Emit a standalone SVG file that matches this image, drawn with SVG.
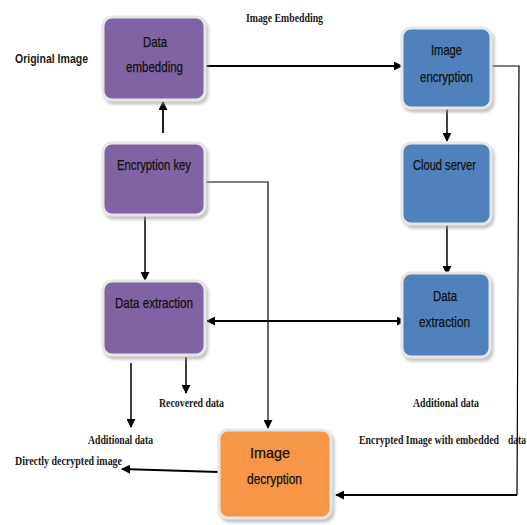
<svg xmlns="http://www.w3.org/2000/svg" width="527" height="525" viewBox="0 0 527 525">
<defs>
<filter id="sh" x="-10%" y="-10%" width="125%" height="130%">
<feDropShadow dx="2" dy="3" stdDeviation="1.5" flood-color="#999" flood-opacity="0.6"/>
</filter>
<marker id="ah" viewBox="0 0 10 10" refX="9" refY="5" markerWidth="9" markerHeight="9" markerUnits="userSpaceOnUse" orient="auto-start-reverse">
<path d="M0,0 L10,5 L0,10 z" fill="#000"/>
</marker>
<style>
.box{stroke:#e6e6e6;stroke-width:3;filter:url(#sh)}
.pur{fill:#8064A2}
.blu{fill:#4F81BD}
.org{fill:#F79646}
.bt{font-family:"Liberation Sans",Arial,sans-serif;font-size:14.5px;fill:#111;stroke:#111;stroke-width:0.25;text-anchor:start}
.lb{font-family:"Liberation Serif","Times New Roman",serif;font-size:12px;font-weight:bold;fill:#1a1a1a}
.ln{fill:none;stroke:#000}
</style>
</defs>
<rect width="527" height="525" fill="#fff"/>

<g id="connectors">
<line class="ln" x1="163" y1="133" x2="163" y2="102" stroke-width="1.8" marker-end="url(#ah)"/>
<line class="ln" x1="205" y1="66" x2="402" y2="66" stroke-width="2" marker-end="url(#ah)"/>
<line class="ln" x1="447" y1="108" x2="447" y2="141" stroke-width="1.5" marker-end="url(#ah)"/>
<line class="ln" x1="447" y1="224" x2="447" y2="274" stroke-width="1.5" marker-end="url(#ah)"/>
<polyline class="ln" points="491,66 519,66 517,495" stroke-width="1.2"/>
<line class="ln" x1="517" y1="495" x2="336" y2="495" stroke-width="2" marker-end="url(#ah)"/>
<polyline class="ln" points="205,182 268,182 268,428" stroke-width="1.2" marker-end="url(#ah)"/>
<line class="ln" x1="145" y1="215" x2="145" y2="280" stroke-width="1.5" marker-end="url(#ah)"/>
<line class="ln" x1="207" y1="321" x2="405" y2="321" stroke-width="2" marker-start="url(#ah)" marker-end="url(#ah)"/>
<line class="ln" x1="131" y1="363" x2="131" y2="427" stroke-width="1.5" marker-end="url(#ah)"/>
<line class="ln" x1="186" y1="357" x2="186" y2="393" stroke-width="1.5" marker-end="url(#ah)"/>
<line class="ln" x1="219" y1="472" x2="122" y2="469" stroke-width="2" marker-end="url(#ah)"/>
</g>

<g id="data-embedding">
<rect class="box pur" x="103" y="17" width="102" height="83" rx="9"/>
<text class="bt" x="143" y="47" textLength="24" lengthAdjust="spacingAndGlyphs">Data</text>
<text class="bt" x="126" y="72" textLength="57" lengthAdjust="spacingAndGlyphs">embedding</text>
</g>
<g id="encryption-key">
<rect class="box pur" x="103" y="143" width="102" height="72" rx="9"/>
<text class="bt" x="117" y="170" textLength="74" lengthAdjust="spacingAndGlyphs">Encryption key</text>
</g>
<g id="data-extraction-left">
<rect class="box pur" x="103" y="281" width="102" height="74" rx="9"/>
<text class="bt" x="115" y="308" textLength="78" lengthAdjust="spacingAndGlyphs">Data extraction</text>
</g>
<g id="image-encryption">
<rect class="box blu" x="402" y="28" width="89" height="80" rx="9"/>
<text class="bt" x="431" y="55" textLength="31" lengthAdjust="spacingAndGlyphs">Image</text>
<text class="bt" x="420" y="82" textLength="53" lengthAdjust="spacingAndGlyphs">encryption</text>
</g>
<g id="cloud-server">
<rect class="box blu" x="402" y="143" width="89" height="81" rx="9"/>
<text class="bt" x="413" y="170" textLength="63" lengthAdjust="spacingAndGlyphs">Cloud server</text>
</g>
<g id="data-extraction-right">
<rect class="box blu" x="402" y="273" width="88" height="84" rx="9"/>
<text class="bt" x="433" y="301" textLength="24" lengthAdjust="spacingAndGlyphs">Data</text>
<text class="bt" x="419" y="327" textLength="51" lengthAdjust="spacingAndGlyphs">extraction</text>
</g>
<g id="image-decryption">
<rect class="box org" x="219" y="430" width="112" height="88" rx="9"/>
<text class="bt" x="250" y="458" textLength="40" lengthAdjust="spacingAndGlyphs">Image</text>
<text class="bt" x="247" y="484" textLength="55" lengthAdjust="spacingAndGlyphs">decryption</text>
</g>

<g id="labels">
<text x="15" y="63" font-family="Liberation Sans,Arial,sans-serif" font-size="13" font-weight="bold" fill="#1a1a1a" textLength="73" lengthAdjust="spacingAndGlyphs">Original Image</text>
<text class="lb" x="246" y="22" textLength="77" lengthAdjust="spacingAndGlyphs">Image Embedding</text>
<text class="lb" x="159" y="407" textLength="65" lengthAdjust="spacingAndGlyphs">Recovered data</text>
<text class="lb" x="88" y="444" textLength="65" lengthAdjust="spacingAndGlyphs">Additional data</text>
<text class="lb" x="15" y="465" textLength="107" lengthAdjust="spacingAndGlyphs">Directly decrypted image</text>
<text class="lb" x="413" y="407" textLength="66" lengthAdjust="spacingAndGlyphs">Additional data</text>
<text class="lb" y="444"><tspan x="359" textLength="140" lengthAdjust="spacingAndGlyphs">Encrypted Image with embedded</tspan><tspan x="508" textLength="18" lengthAdjust="spacingAndGlyphs">data</tspan></text>
</g>
</svg>
